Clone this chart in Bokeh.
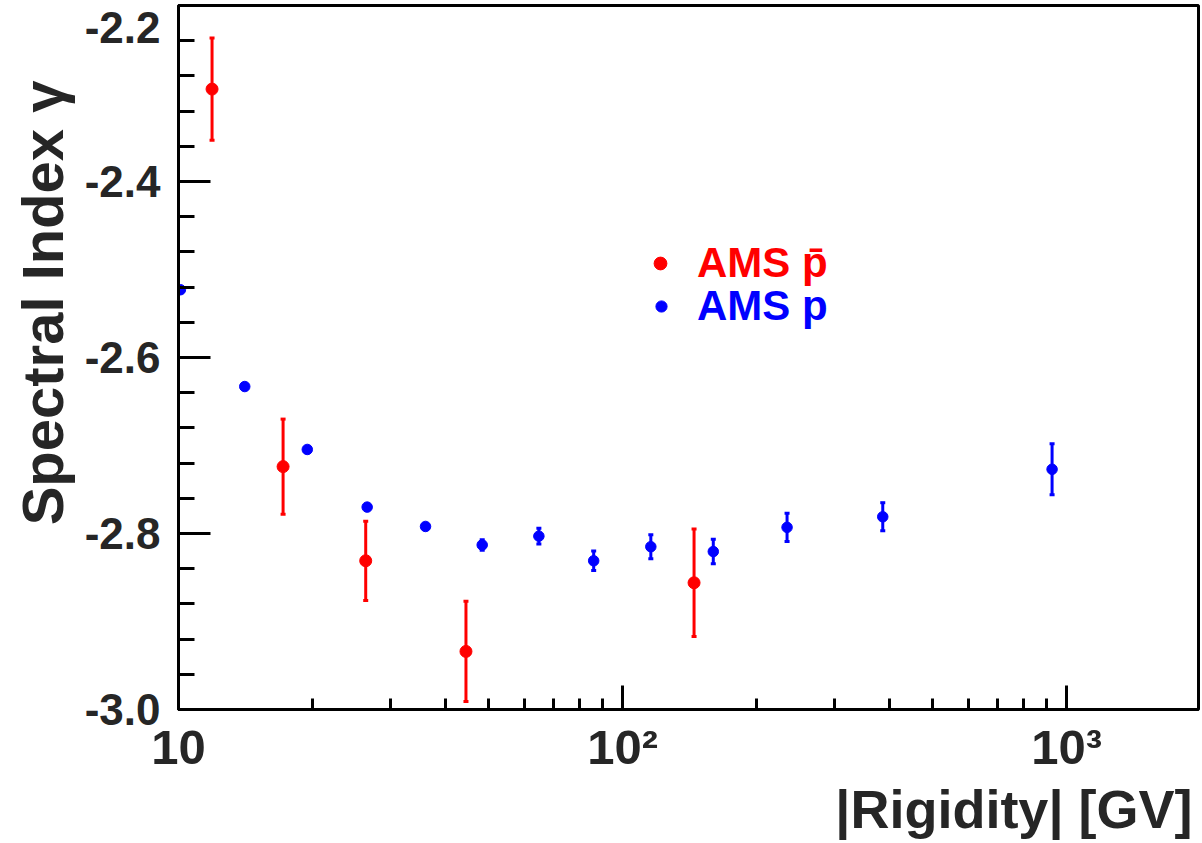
from bokeh.plotting import figure
from bokeh.models import (ColumnDataSource, Whisker, TeeHead, Legend, LegendItem, Title,
                          LinearAxis, LogTicker, SingleIntervalTicker, FixedTicker,
                          PrintfTickFormatter, CustomJSTickFormatter, CustomLabelingPolicy,
                          Range1d)
from bokeh.embed import file_html
from bokeh.resources import INLINE

# ---- data ----
# AMS antiproton spectral index
pbar_rigidity = [11.9, 17.2, 26.4, 44.4, 144.9]
pbar_gamma = [-2.295, -2.724, -2.831, -2.934, -2.856]
pbar_err = [0.058, 0.054, 0.045, 0.057, 0.061]

# AMS proton spectral index
p_rigidity = [10.1, 14.1, 19.5, 26.6, 36.0, 48.3, 64.8, 86.1, 115.8, 160.1, 234.7, 385.5, 927.6]
p_gamma = [-2.523, -2.633, -2.7045, -2.770, -2.792, -2.813, -2.803, -2.831, -2.815, -2.8205,
           -2.793, -2.781, -2.727]
p_err = [0.002, 0.002, 0.002, 0.002, 0.003, 0.006, 0.009, 0.011, 0.0136, 0.014, 0.016, 0.016, 0.029]

x_tick_labels = {10: "10", 100: "10\u00b2", 1000: "10\u00b3"}
# y tick-label positions (the top "-2.2" label sits just below the frame edge, as in the original)
y_label_ticks = [-3.0, -2.8, -2.6, -2.4, -2.2245]
x_title = "|Rigidity| [GV]"
y_title = "Spectral Index \u03b3"
legend_pbar = "AMS p\u0304"
legend_p = "AMS p"

FONT = "Liberation Sans"
TXT = "#262626"

p = figure(frame_width=1020, frame_height=704, x_axis_type="log",
           x_range=Range1d(10, 1982), y_range=Range1d(-3.0, -2.2),
           output_backend="svg", toolbar_location=None,
           min_border_left=178, min_border_right=4, min_border_top=5, min_border_bottom=134)
p.background_fill_color = "white"
p.border_fill_color = "white"
p.grid.visible = False
p.outline_line_color = "black"
p.outline_line_width = 3

xa = p.xaxis[0]
xa.ticker = LogTicker(num_minor_ticks=10)
xa.major_label_overrides = x_tick_labels
xa.axis_line_width = 3
xa.major_tick_in = 24
xa.major_tick_out = 0
xa.minor_tick_in = 11
xa.minor_tick_out = 0
xa.major_tick_line_width = 3
xa.minor_tick_line_width = 3
xa.major_label_text_font = FONT
xa.major_label_text_font_size = "49px"
xa.major_label_text_font_style = "bold"
xa.major_label_text_color = TXT
xa.major_label_standoff = 10

# tick-mark axis (nearest to the frame); its numbers are drawn by the second axis
ya = p.yaxis[0]
ya.ticker = SingleIntervalTicker(interval=0.2, num_minor_ticks=5)
ya.formatter = CustomJSTickFormatter(code="return ''")
ya.major_label_policy = CustomLabelingPolicy(
    code="for (const i of indices) { indices.unset(i) } return indices")
ya.axis_line_width = 3
ya.major_tick_in = 32
ya.major_tick_out = 0
ya.minor_tick_in = 16
ya.minor_tick_out = 0
ya.major_tick_line_width = 3
ya.minor_tick_line_width = 3
ya.major_label_standoff = 0

yl = LinearAxis(ticker=FixedTicker(ticks=y_label_ticks),
                formatter=PrintfTickFormatter(format="%.1f"),
                axis_line_alpha=0, major_tick_line_alpha=0, minor_tick_line_alpha=0,
                major_tick_in=0, major_tick_out=0, minor_tick_in=0, minor_tick_out=0,
                major_label_text_font=FONT, major_label_text_font_size="44px",
                major_label_text_font_style="bold", major_label_text_color=TXT,
                major_label_standoff=18)
p.add_layout(yl, "left")

# ---- protons ----
src_p = ColumnDataSource(dict(
    x=p_rigidity, y=p_gamma,
    upper=[g + e for g, e in zip(p_gamma, p_err)],
    lower=[g - e for g, e in zip(p_gamma, p_err)]))
p.add_layout(Whisker(source=src_p, base="x", upper="upper", lower="lower", dimension="height",
                     line_color="blue", line_width=3,
                     upper_head=TeeHead(size=5, line_color="blue", line_width=3),
                     lower_head=TeeHead(size=5, line_color="blue", line_width=3)))
r_p = p.scatter("x", "y", source=src_p, size=10.5, color="blue")

# ---- antiprotons ----
src_pbar = ColumnDataSource(dict(
    x=pbar_rigidity, y=pbar_gamma,
    upper=[g + e for g, e in zip(pbar_gamma, pbar_err)],
    lower=[g - e for g, e in zip(pbar_gamma, pbar_err)]))
p.add_layout(Whisker(source=src_pbar, base="x", upper="upper", lower="lower", dimension="height",
                     line_color="red", line_width=3,
                     upper_head=TeeHead(size=5, line_color="red", line_width=3),
                     lower_head=TeeHead(size=5, line_color="red", line_width=3)))
r_pbar = p.scatter("x", "y", source=src_pbar, size=12, color="red")

# ---- legends ----
def make_legend(label, rend, color, loc, gw, standoff):
    return Legend(items=[LegendItem(label=label, renderers=[rend])], location=loc,
                  glyph_width=gw, glyph_height=50, label_height=50, label_standoff=standoff,
                  padding=0, margin=0, spacing=0,
                  border_line_alpha=0, background_fill_alpha=0,
                  label_text_font=FONT, label_text_font_size="42px",
                  label_text_font_style="bold", label_text_color=color)

p.add_layout(make_legend(legend_pbar, r_pbar, "red", (466, 421), 32, 21))
p.add_layout(make_legend(legend_p, r_p, "blue", (469, 378), 28, 22))

# ---- axis titles ----
p.add_layout(Title(text=x_title, align="right", offset=6, standoff=0,
                   text_font=FONT, text_font_size="54px", text_font_style="bold",
                   text_color=TXT), "below")
p.add_layout(Title(text=y_title, align="right", offset=75, standoff=13,
                   text_font=FONT, text_font_size="58px", text_font_style="bold",
                   text_color=TXT), "left")

open("out.html", "w").write(file_html(p, INLINE))
